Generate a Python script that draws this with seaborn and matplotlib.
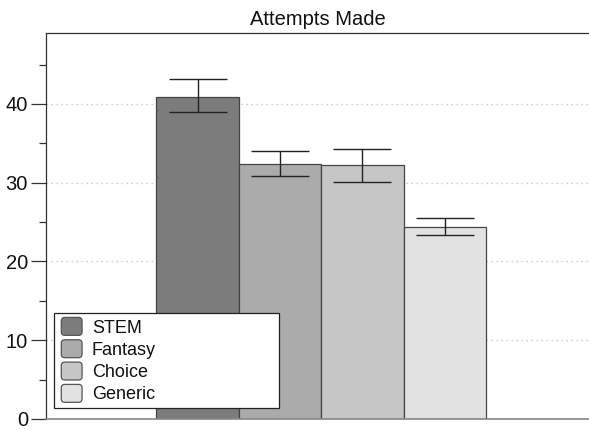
import matplotlib
matplotlib.use("Agg")
import matplotlib.pyplot as plt
import seaborn as sns
import numpy as np
import pandas as pd
from matplotlib.patches import Patch, FancyBboxPatch
from matplotlib.legend_handler import HandlerPatch

categories = ["STEM", "Fantasy", "Choice", "Generic"]
means = [40.9, 32.4, 32.3, 24.4]
err_low = [39.0, 30.9, 30.1, 23.3]
err_high = [43.2, 34.0, 34.3, 25.5]
colors = ["#7c7c7c", "#ababab", "#c6c6c6", "#e2e2e2"]
title = "Attempts Made"

sns.set_theme(style="white")
plt.rcParams["font.family"] = ["Liberation Sans", "DejaVu Sans"]

df = pd.DataFrame({"group": categories, "value": means})

fig = plt.figure(figsize=(5.89, 4.30), dpi=100)
ax = fig.add_axes([46 / 589, 11 / 430, 1 - 46 / 589, 386 / 430])

sns.barplot(data=df, x="group", y="value", hue="group", palette=colors,
            order=categories, hue_order=categories, width=1.0,
            edgecolor="#444444", linewidth=0.9, legend=False, ax=ax, zorder=2)

xpos = np.arange(len(categories))
m = np.array(means)
yerr = np.vstack([m - np.array(err_low), np.array(err_high) - m])
ax.errorbar(xpos, m, yerr=yerr, fmt="none", ecolor="#222222", elinewidth=1.0,
            capsize=21, capthick=1.0, zorder=3)

ax.set_xlim(-1.84, 4.75)
ax.set_ylim(0, 49)
ax.set_xticks([])
ax.set_xlabel("")
ax.set_ylabel("")
ax.set_yticks([0, 10, 20, 30, 40])
ax.set_yticks([5, 15, 25, 35, 45], minor=True)
ax.tick_params(axis="y", which="major", length=11, width=0.9, color="#333333",
               labelsize=14.5, labelcolor="#111111", left=True, pad=2)
ax.tick_params(axis="y", which="minor", length=5, width=0.9, color="#333333", left=True)
ax.yaxis.grid(True, which="major", linestyle=(0, (1, 3)), color="#bbbbbb", linewidth=0.9, zorder=0)
ax.set_axisbelow(True)

for s in ["left", "top"]:
    ax.spines[s].set_color("#333333")
    ax.spines[s].set_linewidth(0.9)
ax.spines["bottom"].set_color("#888888")
ax.spines["bottom"].set_linewidth(1.2)
ax.spines["right"].set_visible(False)

ax.set_title(title, fontsize=14.5, pad=6, color="#111111")


class RoundHandler(HandlerPatch):
    def create_artists(self, legend, orig_handle, xdescent, ydescent, width, height, fontsize, trans):
        p = FancyBboxPatch((-xdescent + 2, -ydescent), width, height,
                           boxstyle="round,pad=0,rounding_size=2.5",
                           facecolor=orig_handle.get_facecolor(),
                           edgecolor="#555555", linewidth=0.9, transform=trans)
        return [p]


handles = [Patch(facecolor=c, edgecolor="#555555", linewidth=0.9) for c in colors]
leg = ax.legend(handles, categories, loc="lower left",
                bbox_to_anchor=(8 / 543, 11 / 386, 225 / 543, 96 / 386),
                mode="expand", fontsize=13, frameon=True, fancybox=False,
                borderaxespad=0, labelspacing=0.18, handlelength=1.15, handleheight=1.15,
                handletextpad=0.7, borderpad=0.25,
                handler_map={Patch: RoundHandler()})
for t in leg.get_texts():
    t.set_color("#111111")
leg.get_frame().set_edgecolor("#222222")
leg.get_frame().set_linewidth(0.9)
leg.get_frame().set_alpha(1)
leg.set_zorder(5)

fig.savefig("out.png", dpi=100)
